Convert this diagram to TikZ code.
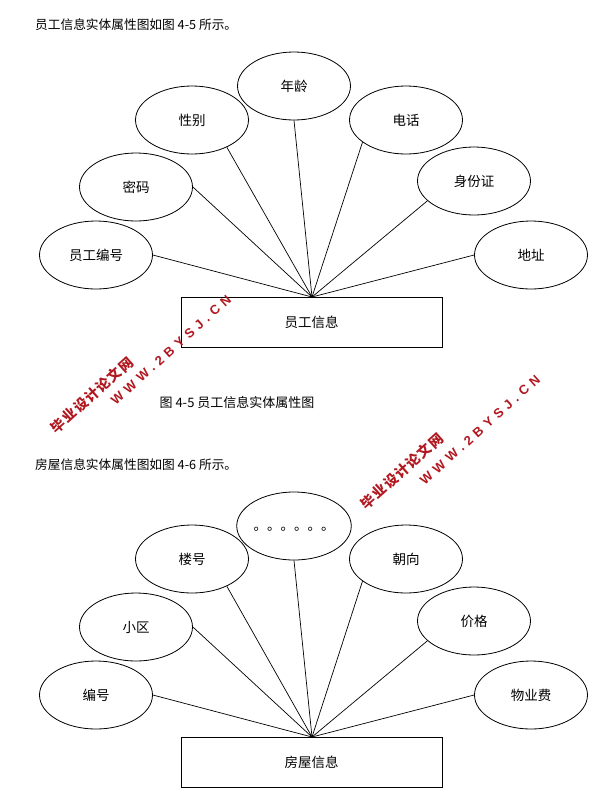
\documentclass[tikz,border=0pt]{standalone}
\usepackage{fontspec}
\setmainfont{Liberation Serif}
\newfontfamily\cjk{Noto Sans CJK SC}
\newfontfamily\wmcjk[LetterSpace=8]{Noto Sans CJK SC}
\newfontfamily\wmlat[LetterSpace=37]{Liberation Sans}
\usetikzlibrary{shapes.geometric}
\definecolor{wmred}{RGB}{178,24,32}
\begin{document}
\begin{tikzpicture}[x=1pt,y=1pt,
  attr/.style={draw, ellipse, minimum width=113pt, minimum height=68pt, inner sep=0pt, line width=0.8pt, font=\cjk\fontsize{13.5}{16}\selectfont},
  entity/.style={draw, rectangle, minimum width=261pt, minimum height=50pt, inner sep=0pt, line width=0.8pt, font=\cjk\fontsize{13.5}{16}\selectfont},
  link/.style={line width=0.7pt},
  para/.style={anchor=west, inner sep=0pt, font=\cjk\fontsize{12.7}{14}\selectfont},
  captext/.style={inner sep=0pt, font=\cjk\fontsize{13}{14}\selectfont},
  wmcn/.style={text=wmred, rotate=42, inner sep=0pt, font=\wmcjk\bfseries\fontsize{14}{16}\selectfont},
  wmen/.style={text=wmred, rotate=42, inner sep=0pt, font=\wmlat\bfseries\fontsize{13}{15}\selectfont}]
\fill[white] (0,0) rectangle (599,-807);
\useasboundingbox (0,0) rectangle (599,-807);

% ---------- paragraph 1 ----------
\node[para] (p1) at (35,-25) {员工信息实体属性图如图 4-5 所示。};

% ---------- diagram 1 ----------
\node[attr] (a1) at (96,-255) {员工编号};
\node[attr] (a2) at (136,-187) {密码};
\node[attr] (a3) at (192,-120) {性别};
\node[attr] (a4) at (294,-86) {年龄};
\node[attr] (a5) at (406,-120) {电话};
\node[attr] (a6) at (474,-181) {身份证};
\node[attr] (a7) at (531,-255) {地址};
\node[entity] (b1) at (311.5,-322) {员工信息};
\coordinate (j1) at (312,-297);
\draw[link] (a1.east) -- (j1);
\draw[link] (a2.east) -- (j1);
\draw[link] (a3.-38) -- (j1);
\draw[link] (a4.south) -- (j1);
\draw[link] (a5.207) -- (j1);
\draw[link] (a6.203) -- (j1);
\draw[link] (a7.west) -- (j1);

\node[captext] (c1) at (237,-403) {图 4-5 员工信息实体属性图};

% ---------- paragraph 2 ----------
\node[para] (p2) at (35,-465) {房屋信息实体属性图如图 4-6 所示。};

% ---------- diagram 2 ----------
\node[attr] (h1) at (96,-695) {编号};
\node[attr] (h2) at (136,-627) {小区};
\node[attr] (h3) at (192,-559) {楼号};
\node[attr, text height=10pt] (h4) at (294,-526) {。。。。。。};
\node[attr] (h5) at (406,-559) {朝向};
\node[attr] (h6) at (474,-621) {价格};
\node[attr] (h7) at (531,-695) {物业费};
\node[entity] (b2) at (311.5,-762) {房屋信息};
\coordinate (j2) at (312,-737);
\draw[link] (h1.east) -- (j2);
\draw[link] (h2.east) -- (j2);
\draw[link] (h3.-38) -- (j2);
\draw[link] (h4.south) -- (j2);
\draw[link] (h5.207) -- (j2);
\draw[link] (h6.203) -- (j2);
\draw[link] (h7.west) -- (j2);

% ---------- watermarks ----------
\node[wmcn] (w1a) at (92,-395) {毕业设计论文网};
\node[wmen] (w1b) at (171,-350) {WWW.2BYSJ.CN};
\node[wmcn] (w2a) at (402,-471) {毕业设计论文网};
\node[wmen] (w2b) at (480,-430) {WWW.2BYSJ.CN};
\end{tikzpicture}
\end{document}
